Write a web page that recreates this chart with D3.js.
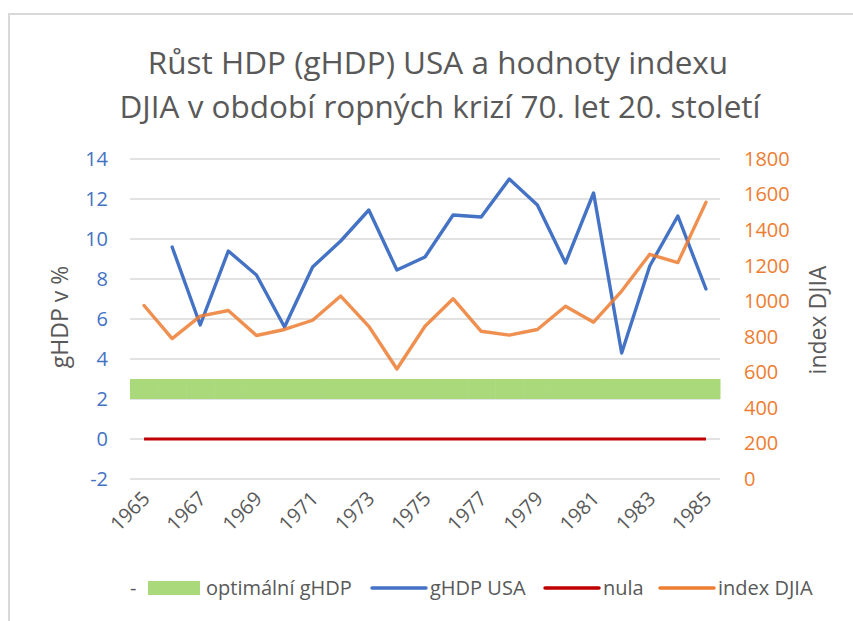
<!DOCTYPE html>
<html>
<head>
<meta charset="utf-8">
<title>Růst HDP (gHDP) USA a index DJIA</title>
<script src="https://cdnjs.cloudflare.com/ajax/libs/d3/7.8.5/d3.min.js"></script>
<style>
  body { margin: 0; background: #fff; }
  svg text { font-family: "Open Sans", "Noto Sans", sans-serif; }
</style>
</head>
<body>
<div id="chart"></div>
<script>
// data
var years = d3.range(1965, 1986);
var ghdp = [null, 9.6, 5.7, 9.4, 8.2, 5.6, 8.6, 9.9, 11.45, 8.45, 9.1,
            11.2, 11.1, 13.0, 11.7, 8.8, 12.3, 4.3, 8.65, 11.15, 7.5];
var djia = [976, 790, 916, 948, 807, 841, 893, 1029, 859, 619, 859,
            1014, 831, 809, 841, 972, 882, 1057, 1264, 1217, 1556];
var optBase = 2;   // neviditelná řada "-"
var optBand = 1;   // optimální gHDP (2 až 3 %)
var nula = 0;
var leftTicks = [-2, 0, 2, 4, 6, 8, 10, 12, 14];
var rightTicks = [0, 200, 400, 600, 800, 1000, 1200, 1400, 1600, 1800];
var xLabels = [1965, 1967, 1969, 1971, 1973, 1975, 1977, 1979, 1981, 1983, 1985];

var w = 853, h = 621;
var plot = {left: 130, right: 720, top: 159, bottom: 479};

var blue = "#4472C4", orange = "#ED7D31", green = "#A9D97B", red = "#C00000";
var grey = "#595959";

var svg = d3.select("#chart").append("svg")
    .attr("width", w)
    .attr("height", h);

// frame
svg.append("path")
    .attr("d", "M9," + h + "V14H" + w)
    .attr("fill", "none")
    .attr("stroke", "#d9d9d9")
    .attr("stroke-width", 2);

// scales
var x = d3.scaleBand().domain(years).range([plot.left, plot.right]).padding(0);
var y = d3.scaleLinear().domain([-2, 14]).range([plot.bottom, plot.top]);
var y2 = d3.scaleLinear().domain([0, 1800]).range([plot.bottom, plot.top]);
var cx = function(yr) { return x(yr) + x.bandwidth() / 2; };

// title
svg.append("text")
    .attr("x", 438).attr("y", 74)
    .attr("text-anchor", "middle")
    .attr("font-size", 31.5)
    .attr("fill", grey)
    .text("Růst HDP (gHDP) USA a hodnoty indexu");
svg.append("text")
    .attr("x", 440).attr("y", 118)
    .attr("text-anchor", "middle")
    .attr("font-size", 31.5)
    .attr("fill", grey)
    .text("DJIA v období ropných krizí 70. let 20. století");

// gridlines
svg.append("g").selectAll("line")
    .data(leftTicks)
    .enter().append("line")
    .attr("x1", plot.left).attr("x2", plot.right)
    .attr("y1", function(d) { return y(d); })
    .attr("y2", function(d) { return y(d); })
    .attr("stroke", "#d9d9d9")
    .attr("stroke-width", 1.3);

var fmt = function(d) { return String(d); };

// left axis
var leftAxis = svg.append("g")
    .attr("transform", "translate(" + (plot.left - 22) + ",0)")
    .call(d3.axisLeft(y).tickValues(leftTicks).tickFormat(fmt).tickSize(0).tickPadding(0));
leftAxis.select(".domain").remove();
leftAxis.attr("font-size", null).attr("font-family", null);
leftAxis.selectAll("text")
    .attr("font-size", 20)
    .attr("fill", blue);

// right axis
var rightAxis = svg.append("g")
    .attr("transform", "translate(" + (plot.right + 24) + ",0)")
    .call(d3.axisRight(y2).tickValues(rightTicks).tickFormat(fmt).tickSize(0).tickPadding(0));
rightAxis.select(".domain").remove();
rightAxis.attr("font-size", null).attr("font-family", null);
rightAxis.selectAll("text")
    .attr("font-size", 20)
    .attr("fill", orange);

// axis titles
svg.append("text")
    .attr("transform", "translate(68,317) rotate(-90)")
    .attr("text-anchor", "middle")
    .attr("font-size", 23)
    .attr("fill", grey)
    .text("gHDP v %");
svg.append("text")
    .attr("transform", "translate(826,320) rotate(-90)")
    .attr("text-anchor", "middle")
    .attr("font-size", 23)
    .attr("fill", grey)
    .text("index DJIA");

// x labels
svg.append("g").selectAll("text")
    .data(xLabels)
    .enter().append("text")
    .attr("transform", function(d) {
        return "translate(" + (cx(d) + 7) + ",500) rotate(-45)";
    })
    .attr("text-anchor", "end")
    .attr("font-size", 20)
    .attr("fill", grey)
    .text(function(d) { return d; });

// optimal band (stacked columns, gap 0)
svg.append("g").selectAll("rect")
    .data(years)
    .enter().append("rect")
    .attr("x", function(d) { return x(d); })
    .attr("width", x.bandwidth() + 0.5)
    .attr("y", y(optBase + optBand))
    .attr("height", y(optBase) - y(optBase + optBand))
    .attr("fill", green);

// nula
var line = d3.line()
    .defined(function(d) { return d.v != null; })
    .x(function(d) { return cx(d.yr); });

svg.append("path")
    .datum(years.map(function(yr) { return {yr: yr, v: nula}; }))
    .attr("fill", "none")
    .attr("stroke", red)
    .attr("stroke-width", 3)
    .attr("d", line.y(function(d) { return y(d.v); }));

// gHDP USA
svg.append("path")
    .datum(years.map(function(yr, i) { return {yr: yr, v: ghdp[i]}; }))
    .attr("fill", "none")
    .attr("stroke", blue)
    .attr("stroke-width", 3.4)
    .attr("stroke-linejoin", "round")
    .attr("stroke-linecap", "round")
    .attr("d", line.y(function(d) { return y(d.v); }));

// DJIA
svg.append("path")
    .datum(years.map(function(yr, i) { return {yr: yr, v: djia[i]}; }))
    .attr("fill", "none")
    .attr("stroke", orange)
    .attr("stroke-width", 3.4)
    .attr("stroke-linejoin", "round")
    .attr("stroke-linecap", "round")
    .attr("opacity", 0.85)
    .attr("d", line.y(function(d) { return y2(d.v); }));

// legend
var ly = 588;
var legend = svg.append("g").attr("font-size", 20).attr("fill", grey);
legend.append("text").attr("x", 130).attr("y", ly + 7).attr("fill", grey).text("-");
legend.append("rect").attr("x", 148).attr("y", ly - 7).attr("width", 52).attr("height", 14).attr("fill", green);
legend.append("text").attr("x", 206).attr("y", ly + 7).attr("fill", grey).text("optimální gHDP");

var items = [
    {x: 372, color: blue, label: "gHDP USA"},
    {x: 545, color: red, label: "nula"},
    {x: 660, color: orange, label: "index DJIA"}
];
items.forEach(function(it) {
    legend.append("line")
        .attr("x1", it.x).attr("x2", it.x + 54)
        .attr("y1", ly).attr("y2", ly)
        .attr("stroke", it.color)
        .attr("stroke-width", 3.4)
        .attr("stroke-linecap", "round");
    legend.append("text")
        .attr("x", it.x + 58).attr("y", ly + 7)
        .attr("fill", grey)
        .text(it.label);
});
</script>
</body>
</html>
